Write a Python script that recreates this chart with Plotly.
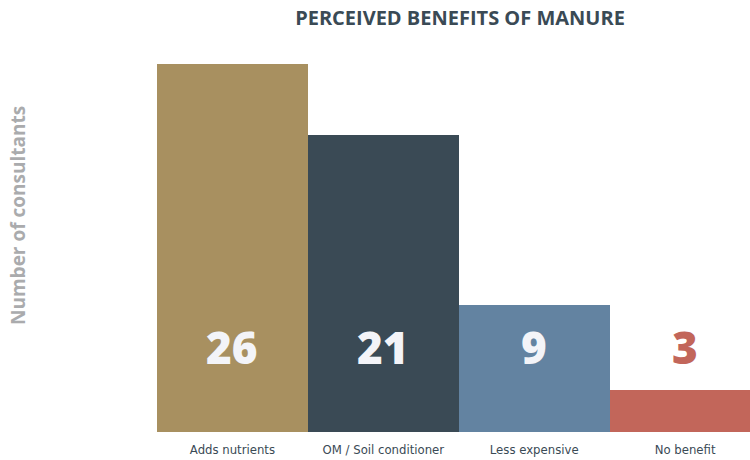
import plotly.graph_objects as go

categories = ["Adds nutrients", "OM / Soil conditioner", "Less expensive", "No benefit"]
values = [26, 21, 9, 3]
bar_colors = ["#A89060", "#3A4A55", "#6383A1", "#C2665A"]
label_colors = ["#F3F4F8", "#F3F4F8", "#F3F4F8", "#C2665A"]

fig = go.Figure()
fig.add_trace(go.Bar(
    x=list(range(len(categories))),
    y=values,
    marker=dict(color=bar_colors, line=dict(width=0)),
    width=1,
    hoverinfo="skip",
))

for i, (v, c) in enumerate(zip(values, label_colors)):
    fig.add_annotation(
        x=i, y=6, xref="x", yref="y", text=str(v), showarrow=False,
        font=dict(family="Open Sans", size=44, color=c, weight=800),
        xanchor="center", yanchor="middle",
    )

fig.add_annotation(
    x=0, y=0.587, xref="paper", yref="paper", xshift=-139,
    text="<b>Number of consultants</b>", textangle=-90, showarrow=False,
    font=dict(family="Open Sans", size=19, color="#AAABAD"),
    xanchor="center", yanchor="middle",
)

fig.update_layout(
    width=750, height=460,
    margin=dict(l=157, r=0, t=64, b=28),
    paper_bgcolor="white", plot_bgcolor="white",
    bargap=0, showlegend=False,
    title=dict(
        text="<b>PERCEIVED BENEFITS OF MANURE</b>",
        x=460/750, xref="container", xanchor="center",
        y=1 - 18/460, yref="container", yanchor="middle",
        font=dict(family="Open Sans", size=20, color="#3A4A55"),
    ),
    xaxis=dict(
        tickmode="array", tickvals=list(range(len(categories))), ticktext=categories,
        range=[-0.5, 3.43], showgrid=False, zeroline=False, showline=False,
        ticks="", ticklabelstandoff=8,
        tickfont=dict(family="Liberation Sans Narrow, DejaVu Sans Condensed, Roboto Condensed, sans-serif", size=13, color="#3A4A55"),
        fixedrange=True,
    ),
    yaxis=dict(
        range=[0, 26], showgrid=False, zeroline=False, showline=False,
        showticklabels=False, ticks="", fixedrange=True,
    ),
)

fig.write_html(
    "out.html",
    config={"displayModeBar": False, "staticPlot": True},
    post_script="document.body.style.margin='0';",
)
